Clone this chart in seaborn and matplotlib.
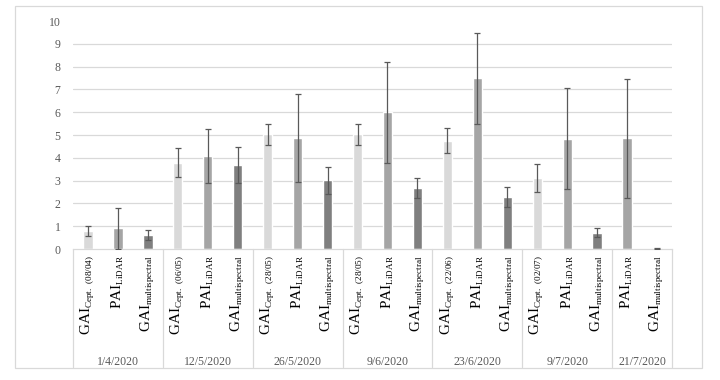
import numpy as np
import pandas as pd
import seaborn as sns
import matplotlib.pyplot as plt
from matplotlib import _mathtext
from matplotlib.patches import Rectangle
from matplotlib.transforms import blended_transform_factory

# bar labels (one slot per bar, Excel-style multi-level axis)
bar_labels = [
    r"GAI$_{\rm Cept.\ (08/04)}$", r"PAI$_{\rm LiDAR}$", r"GAI$_{\rm multispectral}$",
    r"GAI$_{\rm Cept.\ (06/05)}$", r"PAI$_{\rm LiDAR}$", r"GAI$_{\rm multispectral}$",
    r"GAI$_{\rm Cept.\ (28/05)}$", r"PAI$_{\rm LiDAR}$", r"GAI$_{\rm multispectral}$",
    r"GAI$_{\rm Cept.\ (28/05)}$", r"PAI$_{\rm LiDAR}$", r"GAI$_{\rm multispectral}$",
    r"GAI$_{\rm Cept.\ (22/06)}$", r"PAI$_{\rm LiDAR}$", r"GAI$_{\rm multispectral}$",
    r"GAI$_{\rm Cept.\ (02/07)}$", r"PAI$_{\rm LiDAR}$", r"GAI$_{\rm multispectral}$",
    r"PAI$_{\rm LiDAR}$", r"GAI$_{\rm multispectral}$",
]
kinds = ["cept", "lidar", "multi"] * 6 + ["lidar", "multi"]
values = [0.80, 0.90, 0.62, 3.78, 4.07, 3.68, 5.03, 4.88, 3.01, 5.03,
          5.99, 2.68, 4.75, 7.49, 2.29, 3.12, 4.84, 0.71, 4.85, 0.03]
errors = [0.23, 0.90, 0.23, 0.63, 1.19, 0.78, 0.47, 1.93, 0.60, 0.47,
          2.22, 0.45, 0.55, 2.00, 0.43, 0.63, 2.21, 0.20, 2.60, 0.03]

dates = ["1/4/2020", "12/5/2020", "26/5/2020", "9/6/2020", "23/6/2020", "9/7/2020", "21/7/2020"]
group_sizes = [3, 3, 3, 3, 3, 3, 2]

palette = {"cept": "#d9d9d9", "lidar": "#a5a5a5", "multi": "#7f7f7f"}

sns.set_style("white")
plt.rcParams["font.family"] = ["Liberation Serif", "DejaVu Serif"]
plt.rcParams["mathtext.fontset"] = "custom"
plt.rcParams["mathtext.rm"] = "Liberation Serif"
# smaller subscripts, closer to the Excel look
_mathtext.SHRINK_FACTOR = 0.6

df = pd.DataFrame({
    "slot": [str(i) for i in range(len(values))],
    "kind": kinds,
    "value": values,
})

fig = plt.figure(figsize=(7.2, 3.8), dpi=100)
ax = fig.add_axes([73 / 720, 1 - 249 / 380, 599 / 720, 228 / 380])

sns.barplot(data=df, x="slot", y="value", hue="kind", palette=palette,
            dodge=False, width=0.31, legend=False, ax=ax, errorbar=None)
ax.errorbar(np.arange(len(values)), values, yerr=errors, fmt="none",
            ecolor="#595959", elinewidth=0.9, capsize=2, capthick=0.9, zorder=3)

ax.set_xlim(-0.5, len(values) - 0.5)
ax.set_ylim(0, 10)
ax.set_yticks(range(0, 11))
ax.tick_params(axis="y", length=0, pad=9, labelsize=8.5, labelcolor="#595959")
ax.tick_params(axis="x", length=0, labelbottom=False)
ax.set_xlabel("")
ax.set_ylabel("")
ax.yaxis.grid(True, color="#d9d9d9", linewidth=0.9)
ax.set_axisbelow(True)
ax.get_ygridlines()[0].set_visible(False)
ax.get_ygridlines()[-1].set_visible(False)
for side in ["top", "left", "right"]:
    ax.spines[side].set_visible(False)
ax.spines["bottom"].set_color("#d9d9d9")
ax.spines["bottom"].set_linewidth(0.9)

# category labels and the date level below them
trans = blended_transform_factory(ax.transData, ax.transAxes)
for i, lab in enumerate(bar_labels):
    ax.text(i, -0.028, lab, rotation=90, ha="center", va="top",
            fontsize=11, color="black", transform=trans)

bottom = -(367 - 249) / 228
edges = np.concatenate([[0], np.cumsum(group_sizes)]) - 0.5
for x in edges:
    ax.plot([x, x], [0, bottom], color="#d9d9d9", lw=0.9, transform=trans, clip_on=False)
for d, lo, hi in zip(dates, edges[:-1], edges[1:]):
    ax.text((lo + hi) / 2, -(362 - 249) / 228, d, ha="center", va="center",
            fontsize=8.5, color="#595959", transform=trans)

# chart area border
fig.add_artist(Rectangle((15 / 720, 1 - 368 / 380), 687 / 720, 362 / 380,
                         transform=fig.transFigure, fill=False,
                         edgecolor="#d9d9d9", lw=0.9))

fig.savefig("out.png", dpi=100)
